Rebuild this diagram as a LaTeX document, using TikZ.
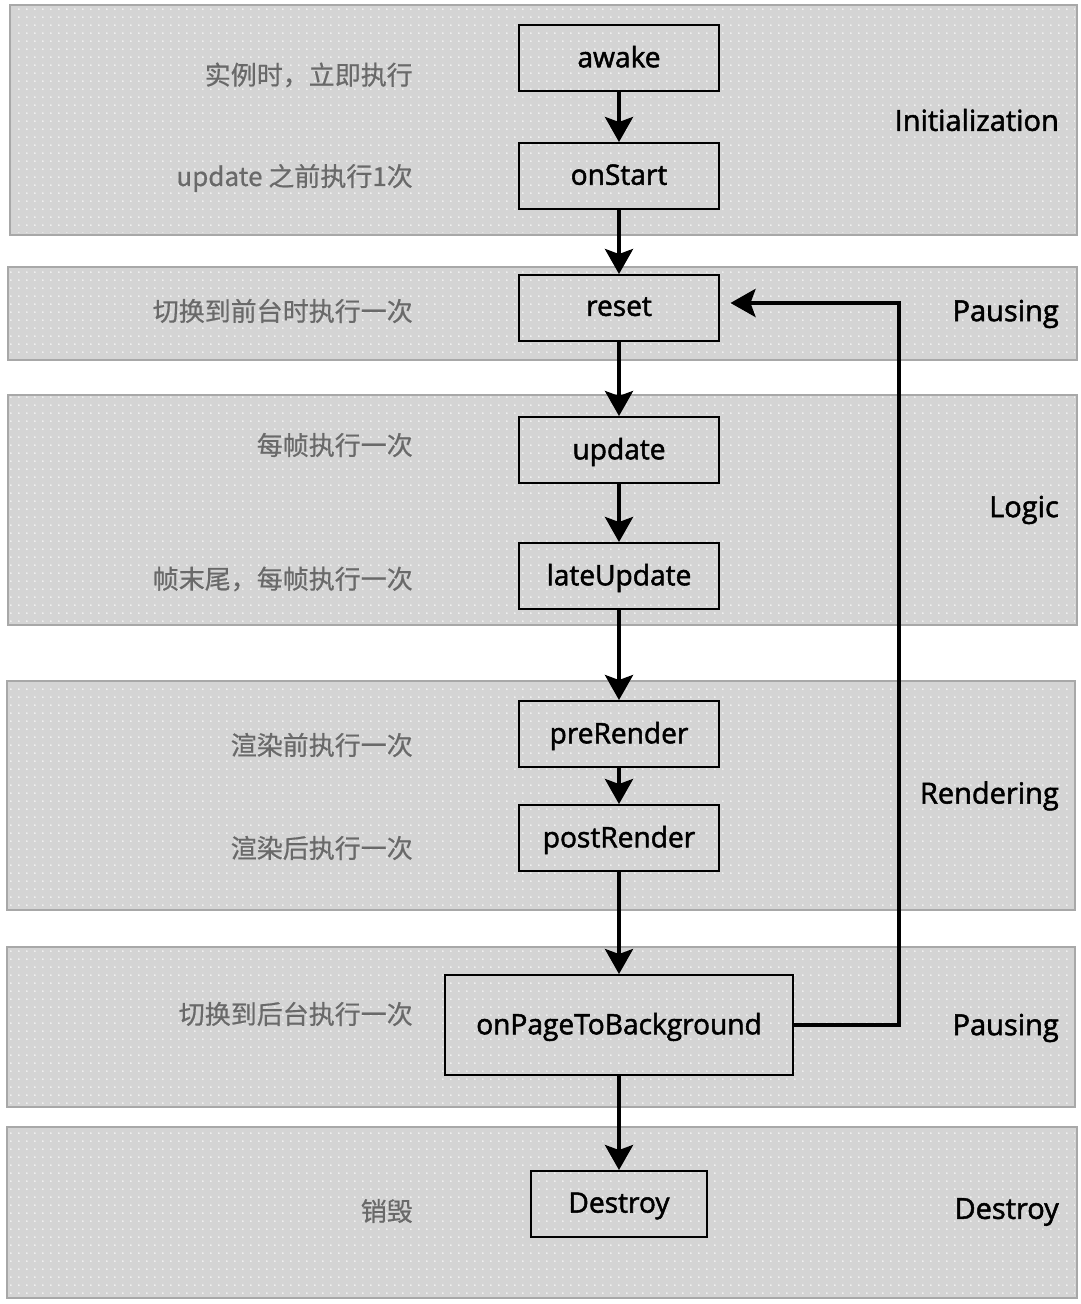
\documentclass[tikz,border=0pt]{standalone}
\usepackage{fontspec}
\setmainfont{Open Sans}[FakeBold=1.8]
\newfontfamily\cjkfont{Noto Sans CJK SC}[FakeBold=0.6]
\usepackage{xcolor}
\usetikzlibrary{arrows.meta,patterns.meta}

\definecolor{bandgray}{RGB}{212,212,212}
\definecolor{bandline}{RGB}{168,168,168}
\definecolor{notegray}{RGB}{105,105,105}

\tikzdeclarepattern{
  name=paledots,
  type=uncolored,
  bounding box={(0pt,0pt) and (4.5pt,4.5pt)},
  tile size={(4.5pt,4.5pt)},
  code={\fill (2.25pt,2.25pt) circle (0.5pt);}
}

\begin{document}
\begin{tikzpicture}[x=0.02cm, y=0.02cm,
    band/.style={fill=bandgray, draw=bandline, line width=1pt},
    dots/.style={pattern=paledots, pattern color=white!85!bandgray},
    stage/.style={rectangle, draw, line width=1.1pt, minimum width=4cm, minimum height=1.32cm, text depth=0.3ex, font=\fontsize{16}{19}\selectfont},
    note/.style={anchor=east, text=notegray, font=\fontsize{14.8}{18}\selectfont\cjkfont},
    phase/.style={anchor=east, font=\fontsize{16.5}{19}\selectfont},
    flow/.style={-{Stealth[length=0.5cm, width=0.56cm, inset=0.1cm]}, line width=2.3pt}]
    \useasboundingbox (0,0) rectangle (1080,1304);

    % background bands
    \foreach \xa/\ya/\xb/\yb in {10/1069/1077/1299, 8/944/1077/1037, 8/679/1077/909,
                                 7/394/1075/623, 7/197/1075/357, 7/6/1077/177} {
        \filldraw[band] (\xa,\ya) rectangle (\xb,\yb);
        \fill[dots] (\xa+2,\ya+2) rectangle (\xb-2,\yb-2);
    }

    % lifecycle steps
    \node (awake) [stage] at (619,1246) {awake};
    \node (onstart) [stage] at (619,1128) {onStart};
    \node (reset) [stage] at (619,996) {reset};
    \node (update) [stage] at (619,854) {update};
    \node (lateupdate) [stage] at (619,728) {lateUpdate};
    \node (prerender) [stage] at (619,570) {preRender};
    \node (postrender) [stage] at (619,466) {postRender};
    \node (onpage) [stage, minimum width=6.96cm, minimum height=2cm] at (619,279) {onPageToBackground};
    \node (destroy) [stage, minimum width=3.52cm] at (619,100) {Destroy};

    % notes on the left
    \node (n1) [note] at (419,1229) {实例时，立即执行};
    \node (n2) [note] at (419,1126) {update 之前执行1次};
    \node (n3) [note] at (419,993) {切换到前台时执行一次};
    \node (n4) [note] at (419,859) {每帧执行一次};
    \node (n5) [note] at (419,725) {帧末尾，每帧执行一次};
    \node (n6) [note] at (419,559) {渲染前执行一次};
    \node (n7) [note] at (419,456) {渲染后执行一次};
    \node (n8) [note] at (419,290) {切换到后台执行一次};
    \node (n9) [note] at (419,93) {销毁};

    % phase names on the right
    \node (p1) [phase] at (1065,1184) {Initialization};
    \node (p2) [phase] at (1065,990) {Pausing};
    \node (p3) [phase] at (1065,794) {Logic};
    \node (p4) [phase] at (1065,508) {Rendering};
    \node (p5) [phase] at (1065,276) {Pausing};
    \node (p6) [phase] at (1065,92) {Destroy};

    \draw [flow] (awake) -- (onstart);
    \draw [flow] (onstart) -- (reset);
    \draw [flow] (reset) -- (update);
    \draw [flow] (update) -- (lateupdate);
    \draw [flow] (lateupdate) -- (prerender);
    \draw [flow] (prerender) -- (postrender);
    \draw [flow] (postrender) -- (onpage);
    \draw [flow] (onpage) -- (destroy);

    % back to reset
    \coordinate (loopdown) at (899,279);
    \coordinate (loopup) at (899,1001);
    \draw [flow, shorten >=6pt] (onpage.east) -- (loopdown) -- (loopup) -- (reset.east |- loopup);
\end{tikzpicture}
\end{document}
